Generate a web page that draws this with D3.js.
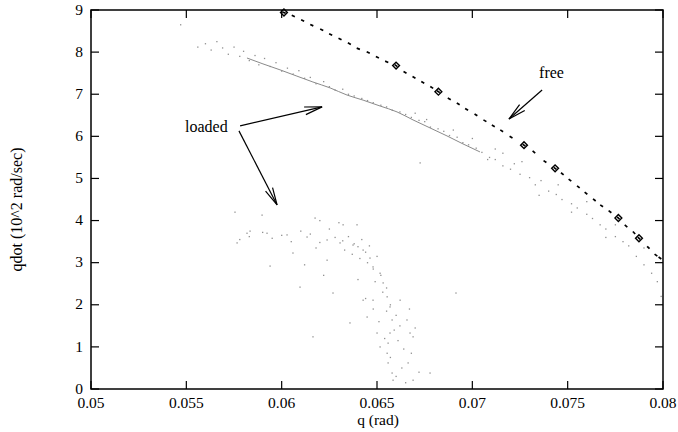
<!DOCTYPE html>
<html>
<head>
<meta charset="utf-8">
<script src="https://cdn.jsdelivr.net/npm/d3@7/dist/d3.min.js"></script>
<style>
  body { margin: 0; background: #fff; }
  svg { display: block; }
</style>
</head>
<body>
<div id="chart"></div>
<script>
// ---- data ----
var xTicks = [0.05, 0.055, 0.06, 0.065, 0.07, 0.075, 0.08];
var xTickLabels = ['0.05', '0.055', '0.06', '0.065', '0.07', '0.075', '0.08'];
var yTicks = [0, 1, 2, 3, 4, 5, 6, 7, 8, 9];

// "free" run: sampled q and qdot
var freeQ = [0.06012, 0.06061, 0.0611, 0.06158, 0.0621, 0.06257, 0.06306, 0.06355, 0.06402, 0.06454, 0.06502, 0.06551,
  0.0660, 0.06647, 0.06694, 0.0674, 0.06787, 0.06822, 0.06879, 0.06926, 0.0697, 0.07019, 0.07066, 0.0711, 0.07154,
  0.07203, 0.07271, 0.07323, 0.07381, 0.07434, 0.07472, 0.07512, 0.07556, 0.07596, 0.0764, 0.07678, 0.07722, 0.07766,
  0.07806, 0.07848, 0.07874, 0.07923, 0.07963, 0.07984];
var freeQdot = [8.94, 8.86, 8.75, 8.64, 8.53, 8.42, 8.31, 8.20, 8.08, 7.99, 7.88, 7.77,
  7.68, 7.52, 7.40, 7.28, 7.16, 7.06, 6.89, 6.77, 6.64, 6.51, 6.37, 6.25, 6.13,
  5.98, 5.79, 5.63, 5.40, 5.24, 5.11, 4.96, 4.80, 4.65, 4.49, 4.35, 4.21, 4.06,
  3.87, 3.71, 3.58, 3.36, 3.18, 3.11];
// samples of the free run drawn with a diamond
var freeMarks = [0, 12, 17, 26, 29, 37, 40];

// "loaded" run, upper band: dense centre line
var bandQ = [0.05818, 0.05902, 0.05991, 0.0608, 0.06164, 0.06254, 0.06343, 0.06427, 0.06516, 0.06605, 0.06689,
  0.06778, 0.06867, 0.06951, 0.0704];
var bandQdot = [7.86, 7.72, 7.58, 7.43, 7.29, 7.15, 6.98, 6.86, 6.72, 6.58, 6.39, 6.20, 6.01, 5.82, 5.63];

// "loaded" run, scattered points of the upper band
var bandPts = [[0.0547, 8.65], [0.0556, 8.12], [0.0560, 8.20], [0.0563, 8.05], [0.0566, 8.25], [0.0569, 8.10],
  [0.0572, 7.95], [0.0575, 8.12], [0.0578, 7.90], [0.0580, 8.02], [0.0583, 7.80], [0.0586, 7.92], [0.0588, 7.70],
  [0.0591, 7.85], [0.0594, 7.66], [0.0597, 7.75], [0.0600, 7.55], [0.0603, 7.62], [0.0606, 7.48], [0.0609, 7.56],
  [0.0612, 7.38], [0.0615, 7.40], [0.0618, 7.25], [0.0622, 7.30], [0.0625, 7.18], [0.0628, 7.10], [0.0632, 7.12],
  [0.0635, 7.00], [0.0638, 6.96], [0.0642, 6.90], [0.0645, 6.85], [0.0648, 6.80], [0.0652, 6.74], [0.0655, 6.70],
  [0.0658, 6.62], [0.0662, 6.58], [0.0665, 6.52], [0.0668, 6.45], [0.0672, 6.38], [0.0675, 6.35], [0.0678, 6.22],
  [0.0682, 6.18], [0.0685, 6.12], [0.0688, 6.02], [0.0692, 5.98], [0.0695, 5.85], [0.0698, 5.80], [0.0702, 5.72],
  [0.0705, 5.62], [0.0709, 5.50], [0.0712, 5.45], [0.0716, 5.30], [0.0720, 5.22], [0.0722, 5.35], [0.0725, 5.10],
  [0.0730, 5.02], [0.0733, 4.85], [0.0736, 4.95], [0.0740, 4.70], [0.0744, 4.62], [0.0747, 4.50], [0.0752, 4.40],
  [0.0755, 4.30], [0.0760, 4.15], [0.0763, 4.05], [0.0767, 3.90], [0.0770, 3.80], [0.0775, 3.62], [0.0779, 3.50],
  [0.0782, 3.40], [0.0786, 3.15], [0.0790, 2.95], [0.0794, 2.75], [0.0797, 2.55], [0.0799, 2.20],
  [0.0670, 6.55], [0.0676, 6.40], [0.0690, 6.15], [0.0700, 5.95], [0.0712, 5.70], [0.0726, 5.40], [0.0745, 4.85],
  [0.0760, 4.45], [0.0775, 3.90], [0.0790, 3.35], [0.0735, 4.60], [0.0752, 4.20], [0.0770, 3.60],
  [0.06914, 2.28], [0.06726, 5.37], [0.0716, 5.60], [0.0708, 5.45]];

// "loaded" run, lower cloud
var cloudPts = [[0.05755, 4.20], [0.05897, 4.13], [0.06175, 4.06], [0.06322, 3.90], [0.06395, 3.90],
  [0.05818, 3.70], [0.05923, 3.70], [0.06028, 3.66], [0.06133, 3.61], [0.06238, 3.54], [0.06306, 3.47],
  [0.06374, 3.42], [0.06427, 3.30], [0.06463, 3.11], [0.06479, 2.90], [0.06516, 2.75], [0.06532, 2.52],
  [0.06553, 2.19], [0.06568, 1.95], [0.06579, 1.64], [0.06568, 1.33], [0.06558, 1.09], [0.06553, 0.85],
  [0.06558, 0.62], [0.06579, 0.38], [0.06584, 0.21], [0.06621, 2.11], [0.06657, 1.64], [0.06673, 1.33],
  [0.06689, 1.24], [0.06663, 0.62], [0.06689, 0.21], [0.06778, 0.38], [0.06059, 3.23], [0.06238, 3.06],
  [0.06096, 2.42], [0.06269, 2.28], [0.06164, 1.24], [0.06358, 1.57], [0.06427, 2.11], [0.06479, 2.11],
  [0.06448, 1.71], [0.0650, 1.33], [0.06516, 1.00], [0.05766, 3.47], [0.05834, 3.75], [0.05939, 2.92],
  [0.0628, 3.60], [0.0632, 3.52], [0.0635, 3.62], [0.0638, 3.45], [0.0640, 3.38], [0.0642, 3.55], [0.0644, 3.25],
  [0.0646, 3.40], [0.0633, 3.30], [0.0637, 3.20], [0.0641, 3.10], [0.0645, 3.00], [0.0648, 2.85], [0.0650, 3.15],
  [0.0652, 2.70], [0.0649, 2.55], [0.0655, 2.40], [0.0653, 2.30], [0.0657, 2.00], [0.0655, 1.85], [0.0660, 1.75],
  [0.0662, 1.50], [0.0659, 1.40], [0.0661, 1.15], [0.0664, 0.95], [0.0657, 0.75], [0.0663, 0.50], [0.0660, 0.30],
  [0.0665, 0.15], [0.0610, 3.75], [0.0600, 3.65], [0.0590, 3.72], [0.0595, 3.58], [0.0605, 3.50], [0.0615, 3.68],
  [0.0620, 3.48], [0.0625, 3.80], [0.0618, 3.35], [0.0630, 3.95], [0.0620, 4.00], [0.0583, 3.62], [0.0578, 3.55],
  [0.0612, 2.95], [0.0622, 2.70], [0.0640, 2.60], [0.0644, 2.15], [0.0648, 1.90], [0.0651, 1.60], [0.0654, 1.20],
  [0.0667, 1.90], [0.0670, 1.45], [0.0668, 0.85], [0.0672, 0.40]];

// labels and arrows, in data coordinates
var labels = [
  {text: 'loaded', q: 0.05493, qdot: 6.10},
  {text: 'free', q: 0.0735, qdot: 7.39}
];
var arrows = [
  {from: [0.05782, 6.25], to: [0.06212, 6.70]},
  {from: [0.05776, 6.13], to: [0.05976, 4.37]},
  {from: [0.07366, 7.10], to: [0.07192, 6.41]}
];

// ---- drawing ----
var svgWidth = 678, svgHeight = 432;
var plotLeft = 91, plotRight = 663, plotTop = 10, plotBottom = 389;
var font = '"Liberation Serif", "Times New Roman", serif';

var x = d3.scaleLinear().domain([0.05, 0.08]).range([plotLeft, plotRight]);
var y = d3.scaleLinear().domain([0, 9]).range([plotBottom, plotTop]);

var svg = d3.select('#chart').append('svg')
  .attr('width', svgWidth).attr('height', svgHeight)
  .attr('font-family', font).attr('font-size', 16);

// loaded: scattered dots
var dots = bandPts.concat(cloudPts);
svg.append('g').selectAll('rect').data(dots).enter().append('rect')
  .attr('x', function(d) { return x(d[0]) - 0.6; })
  .attr('y', function(d) { return y(d[1]) - 0.6; })
  .attr('width', 1.3).attr('height', 1.3)
  .attr('fill', '#909090');

// loaded: dense centre of the band
var bandLine = d3.line().x(function(d) { return x(d); }).y(function(d, i) { return y(bandQdot[i]); }).curve(d3.curveMonotoneX);
svg.append('path').datum(bandQ).attr('d', bandLine)
  .attr('fill', 'none').attr('stroke', '#8a8a8a').attr('stroke-width', 1);

// free: short dashes along the run
var fg = svg.append('g');
freeQ.forEach(function(q, i) {
  var j = i < freeQ.length - 1 ? i + 1 : i - 1;
  var px = x(q), py = y(freeQdot[i]);
  var dx = x(freeQ[j]) - px, dy = y(freeQdot[j]) - py;
  var len = Math.sqrt(dx * dx + dy * dy);
  var ux = dx / len * 1.7, uy = dy / len * 1.7;
  fg.append('line')
    .attr('x1', px - ux).attr('y1', py - uy).attr('x2', px + ux).attr('y2', py + uy)
    .attr('stroke', '#000').attr('stroke-width', 1.7);
});
var diamond = d3.symbol().type(d3.symbolDiamond2).size(30);
fg.selectAll('path.mark').data(freeMarks).enter().append('path')
  .attr('class', 'mark')
  .attr('transform', function(i) { return 'translate(' + x(freeQ[i]) + ',' + y(freeQdot[i]) + ')'; })
  .attr('d', diamond)
  .attr('fill', 'none').attr('stroke', '#000').attr('stroke-width', 1.4);

// arrows with open heads
var ag = svg.append('g').attr('stroke', '#000').attr('stroke-width', 1.2).attr('fill', 'none');
arrows.forEach(function(a) {
  var x1 = x(a.from[0]), y1 = y(a.from[1]), x2 = x(a.to[0]), y2 = y(a.to[1]);
  var ang = Math.atan2(y2 - y1, x2 - x1), head = 18, spread = 0.22;
  ag.append('line').attr('x1', x1).attr('y1', y1).attr('x2', x2).attr('y2', y2);
  ag.append('path').attr('d', 'M' + (x2 - head * Math.cos(ang - spread)) + ',' + (y2 - head * Math.sin(ang - spread)) +
    'L' + x2 + ',' + y2 +
    'L' + (x2 - head * Math.cos(ang + spread)) + ',' + (y2 - head * Math.sin(ang + spread)));
});

svg.append('g').selectAll('text').data(labels).enter().append('text')
  .attr('x', function(d) { return x(d.q); })
  .attr('y', function(d) { return y(d.qdot); })
  .attr('fill', '#000')
  .text(function(d) { return d.text; });

// frame and ticks (mirrored on all four sides)
var axes = svg.append('g').attr('stroke', '#000');
axes.append('rect').attr('x', plotLeft).attr('y', plotTop)
  .attr('width', plotRight - plotLeft).attr('height', plotBottom - plotTop)
  .attr('fill', 'none').attr('stroke-width', 1.5);
xTicks.forEach(function(t) {
  axes.append('line').attr('x1', x(t)).attr('x2', x(t)).attr('y1', plotBottom).attr('y2', plotBottom - 8).attr('stroke-width', 1.2);
  axes.append('line').attr('x1', x(t)).attr('x2', x(t)).attr('y1', plotTop).attr('y2', plotTop + 8).attr('stroke-width', 1.2);
});
yTicks.forEach(function(t) {
  axes.append('line').attr('x1', plotLeft).attr('x2', plotLeft + 8).attr('y1', y(t)).attr('y2', y(t)).attr('stroke-width', 1.2);
  axes.append('line').attr('x1', plotRight).attr('x2', plotRight - 8).attr('y1', y(t)).attr('y2', y(t)).attr('stroke-width', 1.2);
});

svg.append('g').selectAll('text').data(xTicks).enter().append('text')
  .attr('x', function(d) { return x(d); }).attr('y', plotBottom + 19)
  .attr('font-size', 15.5)
  .attr('text-anchor', 'middle').text(function(d, i) { return xTickLabels[i]; });
svg.append('g').selectAll('text').data(yTicks).enter().append('text')
  .attr('x', plotLeft - 8).attr('y', function(d) { return y(d); }).attr('dy', '0.3em')
  .attr('font-size', 15.5)
  .attr('text-anchor', 'end').text(function(d) { return d; });

svg.append('text').attr('x', (plotLeft + plotRight) / 2 + 1).attr('y', plotBottom + 36)
  .attr('font-size', 15.5)
  .attr('text-anchor', 'middle').text('q (rad)');
svg.append('text').attr('transform', 'translate(22,' + ((plotTop + plotBottom) / 2 + 10) + ') rotate(-90)')
  .attr('text-anchor', 'middle').text('qdot (10^2 rad/sec)');
</script>
</body>
</html>
